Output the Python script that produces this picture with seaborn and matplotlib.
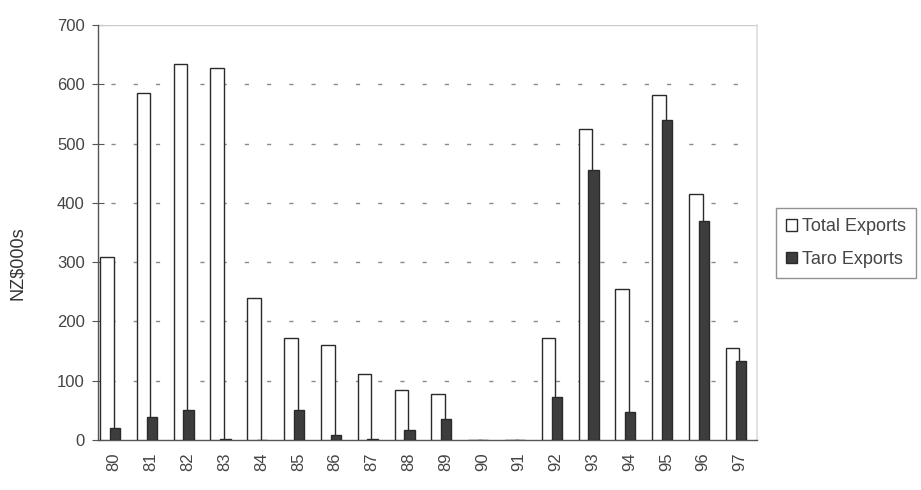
import matplotlib
matplotlib.use("Agg")
import matplotlib.pyplot as plt
import seaborn as sns
import numpy as np
from matplotlib.patches import Patch

years = ["80", "81", "82", "83", "84", "85", "86", "87", "88",
         "89", "90", "91", "92", "93", "94", "95", "96", "97"]
total_exports = [308, 585, 635, 628, 240, 172, 160, 112, 85,
                 78, 0, 0, 172, 525, 255, 582, 415, 155]
taro_exports = [20, 38, 50, 2, 0, 50, 8, 2, 17,
                35, 0, 0, 73, 455, 48, 540, 370, 133]
series_names = ["Total Exports", "Taro Exports"]
y_ticks = [0, 100, 200, 300, 400, 500, 600, 700]

sns.set_theme(style="white")
plt.rcParams["font.family"] = ["Liberation Sans", "DejaVu Sans"]

fig = plt.figure(figsize=(9.21, 4.90), dpi=100)
ax = fig.add_axes([0.1064, 0.102, 0.7155, 0.847])

pos = np.arange(len(years))
edge = "#2a2a2a"
# outlined total bar on the left, the filled taro bar overlapping its right side
sns.barplot(x=pos - 0.2, y=total_exports, native_scale=True, width=0.37,
            color="white", saturation=1, edgecolor=edge, linewidth=1.0,
            errorbar=None, ax=ax, zorder=3)
sns.barplot(x=pos + 0.02, y=taro_exports, native_scale=True, width=0.28,
            color="#3d3d3d", saturation=1, edgecolor=edge, linewidth=1.0,
            errorbar=None, ax=ax, zorder=4)

ax.set_xlim(-0.44, len(years) - 0.54)
ax.set_ylim(0, 700)
ax.set_yticks(y_ticks)
ax.set_yticklabels([str(t) for t in y_ticks], fontsize=12, color="#444")

# sparse dotted gridlines at the interior ticks, faint solid line at the top
for t in y_ticks[1:-1]:
    ax.axhline(t, xmin=0.02, xmax=0.99, color="#8a8a8a",
               linestyle=(0, (3, 13)), linewidth=1.0, zorder=1)
ax.axhline(700, color="#cccccc", linewidth=1.0, zorder=1)

ax.set_xlabel("")
ax.set_ylabel("NZ\\$000s", fontsize=13, color="#333")
ax.yaxis.set_label_coords(-0.11, 0.425)
ax.set_xticks(pos)
ax.set_xticklabels(years, rotation=90, fontsize=12, color="#444")
ax.tick_params(axis="x", length=0, pad=9)
ax.set_xticks(np.arange(0.5, len(years) - 1), minor=True)
ax.tick_params(axis="x", which="minor", length=6, direction="inout",
               color="#555", width=0.8)
ax.tick_params(axis="y", length=9, direction="inout", color="#555",
               width=0.8, pad=5, left=True)

for side in ["left", "bottom"]:
    ax.spines[side].set_color("#555")
    ax.spines[side].set_linewidth(1.0)
ax.spines["right"].set_color("#dddddd")
ax.spines["top"].set_visible(False)

handles = [Patch(facecolor="white", edgecolor=edge, label=series_names[0]),
           Patch(facecolor="#3d3d3d", edgecolor=edge, label=series_names[1])]
leg = fig.legend(handles=handles, loc="center left",
                 bbox_to_anchor=(776 / 921, 1 - 243 / 490), fontsize=13,
                 frameon=True, fancybox=False, handlelength=0.6,
                 handleheight=0.6, handletextpad=0.3, borderpad=0.55,
                 borderaxespad=0, labelspacing=0.85, edgecolor="#777")
leg.get_frame().set_linewidth(1.0)
for txt in leg.get_texts():
    txt.set_color("#444")

fig.savefig("out.png", dpi=100)
